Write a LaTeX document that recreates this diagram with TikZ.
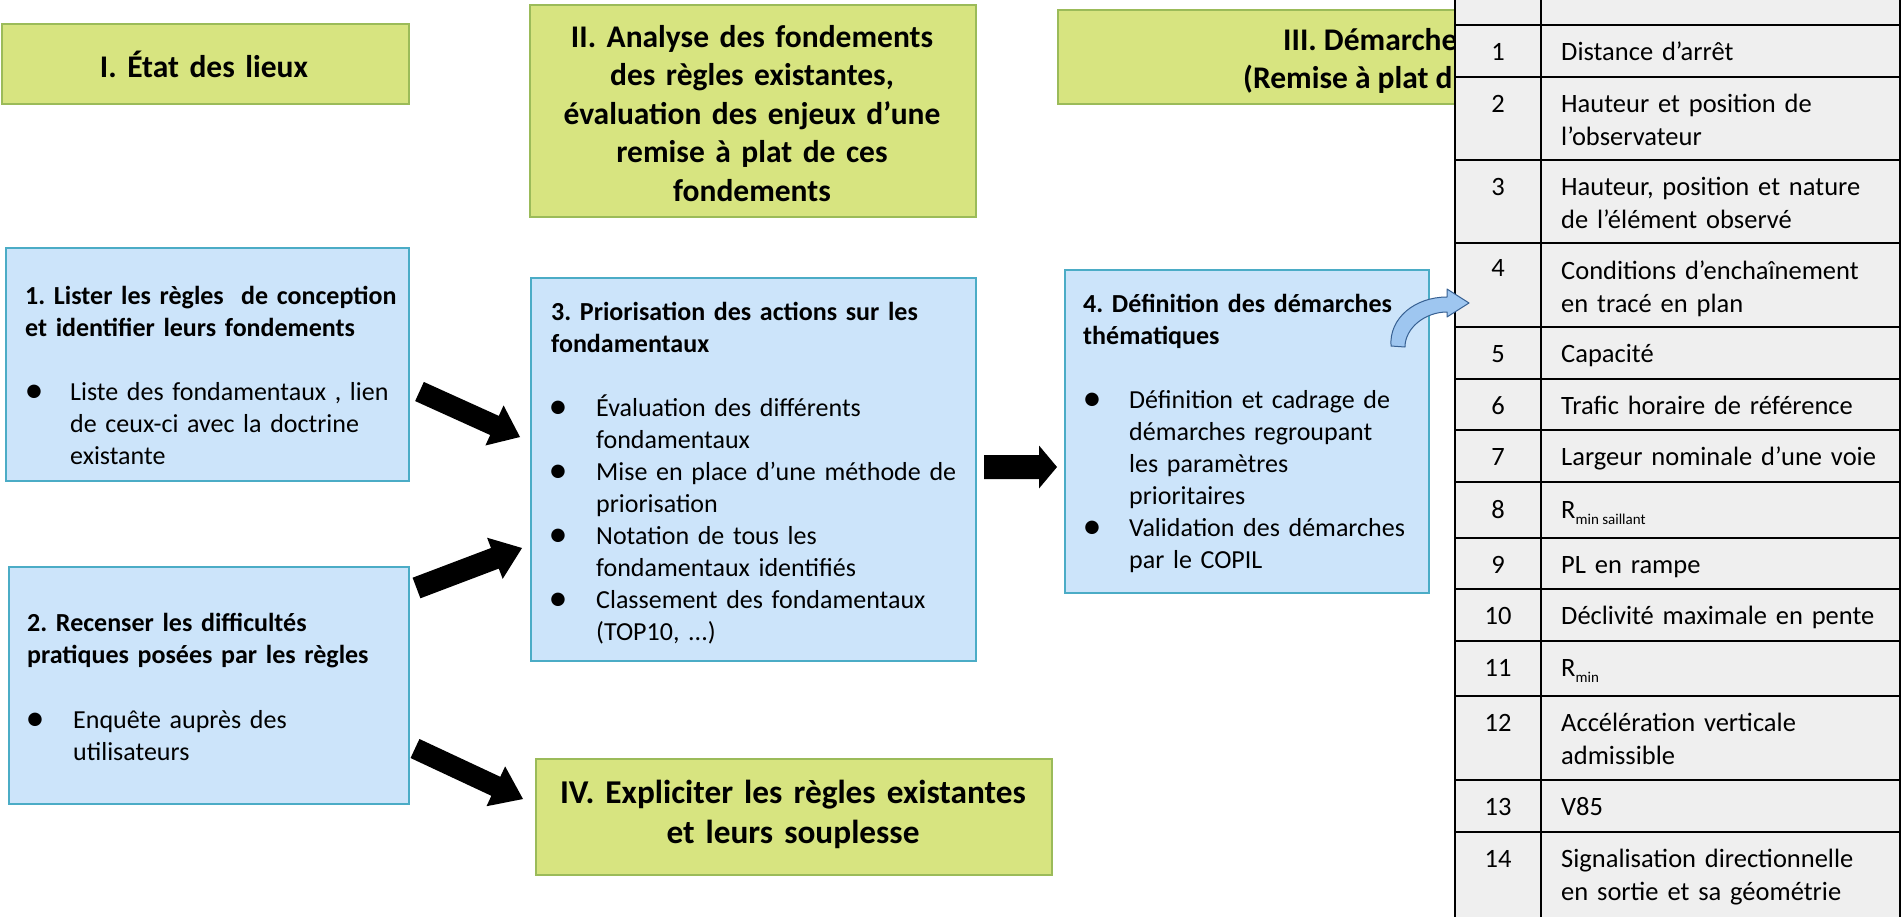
\documentclass[tikz,border=0pt]{standalone}
\usepackage{fontspec}
\setmainfont{Carlito}
\usetikzlibrary{calc}
\frenchspacing
\definecolor{bluefill}{RGB}{204,228,250}
\definecolor{blueline}{RGB}{75,172,198}
\definecolor{greenfill}{RGB}{215,228,128}
\definecolor{greenline}{RGB}{155,187,89}
\definecolor{tablefill}{RGB}{239,239,239}
\definecolor{curvefill}{RGB}{158,198,240}
\definecolor{curveline}{RGB}{55,96,146}
\tikzset{
  bluebox/.style={draw=blueline, fill=bluefill, line width=2pt, inner sep=0pt, anchor=north west},
  greenbox/.style={draw=greenline, fill=greenfill, line width=2pt, inner sep=0pt, anchor=north west},
  headtext/.style={font=\fontsize{31.5}{38.5}\selectfont\bfseries, align=center, text width=#1, inner sep=0pt, anchor=base},
  headleft/.style={font=\fontsize{31.5}{38.5}\selectfont\bfseries, inner sep=0pt, anchor=base west},
  titletext/.style={font=\fontsize{26}{32}\selectfont\bfseries, align=left, text width=420pt, inner sep=0pt, anchor=base west},
  bodytext/.style={font=\fontsize{26}{32}\selectfont, align=left, text width=400pt, inner sep=0pt, anchor=base west},
  bul/.style={font=\fontsize{38}{38}\selectfont, inner sep=0pt, anchor=base},
  blockarrowstyle/.style={fill=black},
  tableline/.style={draw=black, line width=1.3pt},
  numtext/.style={font=\fontsize{26.5}{33}\selectfont, inner sep=0pt, anchor=base},
  celltext/.style={font=\fontsize{26.5}{33}\selectfont, align=left, text width=340pt, inner sep=0pt, anchor=base west},
  curvearrow/.style={fill=curvefill, draw=curveline, line width=1pt, line join=round}
}
\newcommand\blockarrow[5]{% tail, tip, half shaft, half head, head length
  \coordinate (ba-b) at ($(#2)!#5pt!(#1)$);
  \fill[blockarrowstyle] ($(#1)!#3pt!90:(#2)$) -- ($(ba-b)!#3pt!-90:(#1)$) -- ($(ba-b)!#4pt!-90:(#1)$) -- (#2) -- ($(ba-b)!#4pt!90:(#1)$) -- ($(ba-b)!#3pt!90:(#1)$) -- ($(#1)!#3pt!-90:(#2)$) -- cycle;
}
\begin{document}
\begin{tikzpicture}[x=1pt, y=-1pt]
\useasboundingbox (0,0) rectangle (1903,916);
\fill[white] (0,0) rectangle (1903,916);

% green header boxes
\node[greenbox, minimum width=407pt, minimum height=80pt] (hI) at (1,23) {};
\node[headtext=400pt] (hIt) at (204,77) {I. État des lieux};
\node[greenbox, minimum width=446pt, minimum height=212pt] (hII) at (529,4) {};
\node[headtext=440pt] (hIIt) at (752,47) {II. Analyse des fondements\\des règles existantes,\\évaluation des enjeux d’une\\remise à plat de ces\\fondements};
\node[greenbox, minimum width=796pt, minimum height=94pt] (hIII) at (1057,9) {};
\node[headleft] (hIIIa) at (1283,50) {III. Démarche};
\node[headleft] (hIIIb) at (1243,88) {(Remise à plat d};
\node[greenbox, minimum width=516pt, minimum height=116pt] (hIV) at (535,758) {};
\node[headtext=510pt, font=\fontsize{33.3}{40}\selectfont\bfseries] (hIVt) at (793,803) {IV. Expliciter les règles existantes\\et leurs souplesse};

% blue boxes
\node[bluebox, minimum width=403pt, minimum height=233pt] (b1) at (5,247) {};
\node[titletext] (b1t) at (25,304) {1. Lister les règles~ de conception\\et identifier leurs fondements};
\node[bul] (b1u1) at (34,402) {\textbullet};
\node[bodytext] (b1i1) at (70,400) {Liste des fondamentaux , lien\\de ceux-ci avec la doctrine\\existante};

\node[bluebox, minimum width=400pt, minimum height=237pt] (b2) at (8,566) {};
\node[titletext] (b2t) at (27,631) {2. Recenser les difficultés\\pratiques posées par les règles};
\node[bul] (b2u1) at (35,730) {\textbullet};
\node[bodytext] (b2i1) at (73,728) {Enquête auprès des\\utilisateurs};

\node[bluebox, minimum width=445pt, minimum height=383pt] (b3) at (530,277) {};
\node[titletext] (b3t) at (551,320) {3. Priorisation des actions sur les\\fondamentaux};
\node[bul] (b3u1) at (558,418) {\textbullet};
\node[bodytext] (b3i1) at (596,416) {Évaluation des différents\\fondamentaux};
\node[bul] (b3u2) at (558,482) {\textbullet};
\node[bodytext] (b3i2) at (596,480) {Mise en place d’une méthode de\\priorisation};
\node[bul] (b3u3) at (558,546) {\textbullet};
\node[bodytext] (b3i3) at (596,544) {Notation de tous les\\fondamentaux identifiés};
\node[bul] (b3u4) at (558,610) {\textbullet};
\node[bodytext] (b3i4) at (596,608) {Classement des fondamentaux\\(TOP10, ...)};

\node[bluebox, minimum width=364pt, minimum height=323pt] (b4) at (1064,269) {};
\node[titletext] (b4t) at (1083,312) {4. Définition des démarches\\thématiques};
\node[bul] (b4u1) at (1092,410) {\textbullet};
\node[bodytext] (b4i1) at (1129,408) {Définition et cadrage de\\démarches regroupant\\les paramètres\\prioritaires};
\node[bul] (b4u2) at (1092,538) {\textbullet};
\node[bodytext] (b4i2) at (1129,536) {Validation des démarches\\par le COPIL};

% black block arrows
\coordinate (a1s) at (419.5,391.5);
\coordinate (a1e) at (520,437);
\blockarrow{a1s}{a1e}{10.5}{22}{28}
\coordinate (a2s) at (416.5,588);
\coordinate (a2e) at (522,548);
\blockarrow{a2s}{a2e}{11}{22}{29}
\coordinate (a3s) at (415,748.5);
\coordinate (a3e) at (523,799);
\blockarrow{a3s}{a3e}{10.5}{22}{30}
\coordinate (a4s) at (984,467);
\coordinate (a4e) at (1057,467);
\blockarrow{a4s}{a4e}{12}{21.5}{18}

% table
\fill[tablefill] (1455,-5) rectangle (1900,921);
\foreach \yy in {25,77,160,243,327,379,430,482,538,589,641,696,780,832}
  \draw[tableline] (1455,\yy) -- (1900,\yy);
\foreach \xx in {1455,1541,1900}
  \draw[tableline] (\xx,-5) -- (\xx,921);

\node[numtext] (n1) at (1498,60) {1};
\node[celltext] (c1) at (1561,60) {Distance d’arrêt};
\node[numtext] (n2) at (1498,112) {2};
\node[celltext] (c2) at (1561,112) {Hauteur et position de\\l’observateur};
\node[numtext] (n3) at (1498,195) {3};
\node[celltext] (c3) at (1561,195) {Hauteur, position et nature\\de l’élément observé};
\node[numtext] (n4) at (1498,276) {4};
\node[celltext] (c4) at (1561,279) {Conditions d’enchaînement\\en tracé en plan};
\node[numtext] (n5) at (1498,362) {5};
\node[celltext] (c5) at (1561,362) {Capacité};
\node[numtext] (n6) at (1498,414) {6};
\node[celltext] (c6) at (1561,414) {Trafic horaire de référence};
\node[numtext] (n7) at (1498,465) {7};
\node[celltext] (c7) at (1561,465) {Largeur nominale d’une voie};
\node[numtext] (n8) at (1498,518) {8};
\node[celltext] (c8) at (1561,518) {R\raisebox{-6pt}{\fontsize{15}{15}\selectfont min\hspace{3.4pt}saillant}};
\node[numtext] (n9) at (1498,573) {9};
\node[celltext] (c9) at (1561,573) {PL en rampe};
\node[numtext] (n10) at (1498,624) {10};
\node[celltext] (c10) at (1561,624) {Déclivité maximale en pente};
\node[numtext] (n11) at (1498,676) {11};
\node[celltext] (c11) at (1561,676) {R\raisebox{-6pt}{\fontsize{15}{15}\selectfont min}};
\node[numtext] (n12) at (1498,731) {12};
\node[celltext] (c12) at (1561,731) {Accélération verticale\\admissible};
\node[numtext] (n13) at (1498,815) {13};
\node[celltext] (c13) at (1561,815) {V85};
\node[numtext] (n14) at (1498,867) {14};
\node[celltext] (c14) at (1561,867) {Signalisation directionnelle\\en sortie et sa géométrie};

% curved blue arrow from box 4 to table row 4
\filldraw[curvearrow] (1391,346) .. controls (1389,318) and (1415,297) .. (1447,297) -- (1447,289) -- (1469,303) -- (1447,317) -- (1447,312) .. controls (1425,312) and (1405,328) .. (1405,347) -- cycle;
\end{tikzpicture}
\end{document}
